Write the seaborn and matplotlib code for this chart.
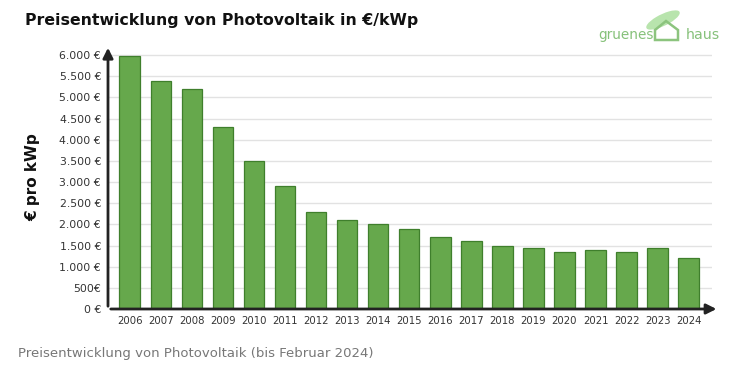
import matplotlib
matplotlib.use("Agg")
import matplotlib.pyplot as plt
import seaborn as sns
import pandas as pd
from matplotlib.patches import Polygon, Ellipse

years = ["2006", "2007", "2008", "2009", "2010", "2011", "2012", "2013", "2014", "2015",
         "2016", "2017", "2018", "2019", "2020", "2021", "2022", "2023", "2024"]
prices = [5980, 5400, 5200, 4300, 3500, 2900, 2300, 2100, 2000, 1900,
          1700, 1600, 1500, 1450, 1350, 1400, 1350, 1450, 1200]
ytick_vals = [0, 500, 1000, 1500, 2000, 2500, 3000, 3500, 4000, 4500, 5000, 5500, 6000]
ytick_labels = ["0 €", "500€", "1.000 €", "1.500 €", "2.000 €", "2.500 €", "3.000 €",
                "3.500 €", "4.000 €", "4.500 €", "5.000 €", "5.500 €", "6.000 €"]

df = pd.DataFrame({"Jahr": years, "Preis": prices})

sns.set_theme(style="white")
plt.rcParams["font.family"] = ["DejaVu Sans"]

fig = plt.figure(figsize=(7.33, 3.70), dpi=100)
ax = fig.add_axes([108/733, 1-309/370, (712-108)/733, (309-45)/370])

sns.barplot(data=df, x="Jahr", y="Preis", color="#66a84c", edgecolor="#3f7f2c",
            linewidth=0.9, width=0.66, saturation=1, ax=ax)

ax.set_ylim(0, 6240)
ax.set_xlim(-0.7, len(years) - 0.25)
ax.set_yticks(ytick_vals)
ax.set_yticklabels(ytick_labels, fontsize=7.8, color="#333333")
ax.tick_params(axis="x", labelsize=7.3, colors="#333333", length=0, pad=5)
ax.tick_params(axis="y", length=0, pad=5)
ax.set_xlabel("")
ax.set_ylabel("€ pro kWp", fontsize=11, fontweight="bold", color="#111111", labelpad=14)
ax.yaxis.grid(True, color="#e2e2e2", linewidth=1)
ax.set_axisbelow(True)
for s in ["top", "right", "left", "bottom"]:
    ax.spines[s].set_visible(False)

# axis lines with arrowheads
ax.annotate("", xy=(0, 1.0), xytext=(0, 0), xycoords="axes fraction",
            arrowprops=dict(arrowstyle="-|>,head_length=0.5,head_width=0.25", color="#222222", lw=2))
ax.annotate("", xy=(1.012, 0), xytext=(0, 0), xycoords="axes fraction",
            arrowprops=dict(arrowstyle="-|>,head_length=0.5,head_width=0.25", color="#222222", lw=2),
            annotation_clip=False)

fig.text(25/733, 1-21/370, "Preisentwicklung von Photovoltaik in €/kWp", fontsize=11.3,
         fontweight="bold", color="#111111", va="center", ha="left")
fig.text(18/733, 1-353/370, "Preisentwicklung von Photovoltaik (bis Februar 2024)",
         fontsize=9.5, color="#777777", va="center", ha="left")

# logo
leaf = Ellipse((663/733, 1-20/370), 18/733, 24/370, angle=-40, transform=fig.transFigure,
               facecolor="#b8e4ad", edgecolor="none")
fig.patches.append(leaf)
house = Polygon([(655/733, 1-40/370), (655/733, 1-30/370), (666/733, 1-21/370),
                 (678/733, 1-30/370), (678/733, 1-40/370)], closed=True, fill=False,
                edgecolor="#8cc47e", linewidth=1.8, transform=fig.transFigure)
fig.patches.append(house)
fig.text(598/733, 1-35/370, "gruenes", fontsize=9.8, color="#86c17a", va="center", ha="left")
fig.text(686/733, 1-35/370, "haus", fontsize=10.2, color="#86c17a", va="center", ha="left")

fig.savefig("out.png", dpi=100)
